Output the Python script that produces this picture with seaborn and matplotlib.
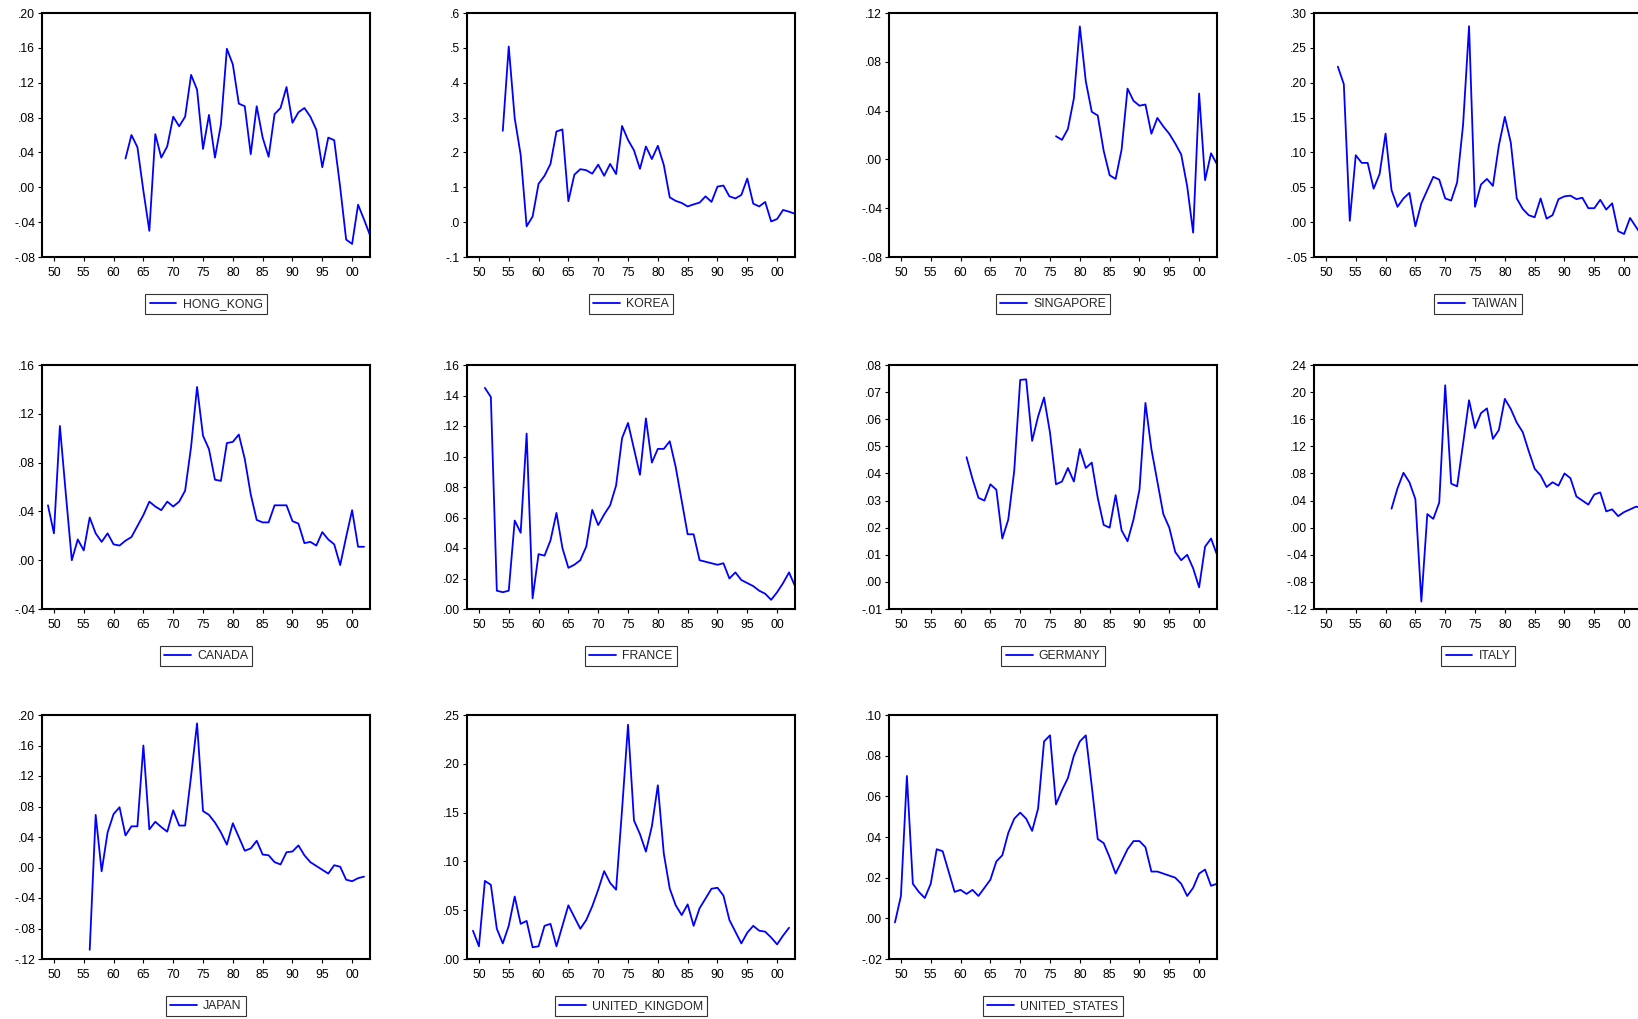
import numpy as np
import pandas as pd
import matplotlib
matplotlib.use('Agg')
import matplotlib.pyplot as plt
import matplotlib.ticker as mticker
import seaborn as sns

# annual series, values start at the given year
hong_kong_start = 1962
hong_kong = [0.033, 0.060, 0.046, -0.004, -0.050, 0.061, 0.034, 0.047, 0.081, 0.070,
             0.081, 0.129, 0.112, 0.044, 0.083, 0.034, 0.072, 0.159, 0.141, 0.096,
             0.093, 0.038, 0.093, 0.057, 0.035, 0.084, 0.091, 0.115, 0.074, 0.086,
             0.091, 0.081, 0.066, 0.023, 0.057, 0.054, 0.000, -0.060, -0.065, -0.020,
             -0.037, -0.055]

korea_start = 1954
korea = [0.262, 0.504, 0.298, 0.193, -0.012, 0.016, 0.110, 0.133, 0.167, 0.260,
         0.266, 0.060, 0.136, 0.152, 0.149, 0.139, 0.165, 0.133, 0.167, 0.138,
         0.276, 0.236, 0.206, 0.153, 0.217, 0.181, 0.219, 0.164, 0.071, 0.061,
         0.055, 0.045, 0.051, 0.056, 0.074, 0.058, 0.102, 0.105, 0.074, 0.068,
         0.078, 0.125, 0.053, 0.045, 0.058, 0.002, 0.009, 0.035, 0.030, 0.024]

singapore_start = 1976
singapore = [0.019, 0.016, 0.025, 0.050, 0.109, 0.064, 0.039, 0.036, 0.007, -0.013,
             -0.016, 0.008, 0.058, 0.048, 0.044, 0.045, 0.021, 0.034, 0.027, 0.021,
             0.013, 0.004, -0.022, -0.060, 0.054, -0.017, 0.005, -0.004]

taiwan_start = 1952
taiwan = [0.223, 0.198, 0.002, 0.096, 0.085, 0.085, 0.048, 0.069, 0.127, 0.046,
          0.022, 0.034, 0.042, -0.006, 0.027, 0.046, 0.065, 0.061, 0.034, 0.031,
          0.057, 0.140, 0.281, 0.022, 0.054, 0.062, 0.052, 0.110, 0.151, 0.114,
          0.034, 0.019, 0.010, 0.007, 0.034, 0.005, 0.010, 0.033, 0.037, 0.038,
          0.033, 0.035, 0.020, 0.020, 0.032, 0.018, 0.027, -0.013, -0.017, 0.006,
          -0.007, -0.020]

canada_start = 1949
canada = [0.045, 0.022, 0.110, 0.054, 0.000, 0.017, 0.008, 0.035, 0.022, 0.015,
          0.022, 0.013, 0.012, 0.016, 0.019, 0.028, 0.037, 0.048, 0.044, 0.041,
          0.048, 0.044, 0.048, 0.057, 0.093, 0.142, 0.102, 0.091, 0.066, 0.065,
          0.096, 0.097, 0.103, 0.083, 0.054, 0.033, 0.031, 0.031, 0.045, 0.045,
          0.045, 0.032, 0.030, 0.014, 0.015, 0.012, 0.023, 0.017, 0.013, -0.004,
          0.019, 0.041, 0.011, 0.011]

france_start = 1951
france = [0.145, 0.139, 0.012, 0.011, 0.012, 0.058, 0.050, 0.115, 0.007, 0.036,
          0.035, 0.045, 0.063, 0.040, 0.027, 0.029, 0.032, 0.041, 0.065, 0.055,
          0.062, 0.068, 0.081, 0.112, 0.122, 0.105, 0.088, 0.125, 0.096, 0.105,
          0.105, 0.110, 0.093, 0.071, 0.049, 0.049, 0.032, 0.031, 0.030, 0.029,
          0.030, 0.020, 0.024, 0.019, 0.017, 0.015, 0.012, 0.010, 0.006, 0.011,
          0.017, 0.024, 0.015]

germany_start = 1961
germany = [0.046, 0.038, 0.031, 0.030, 0.036, 0.034, 0.016, 0.023, 0.041, 0.0745,
           0.0747, 0.052, 0.061, 0.068, 0.055, 0.036, 0.037, 0.042, 0.037, 0.049,
           0.042, 0.044, 0.031, 0.021, 0.020, 0.032, 0.019, 0.015, 0.023, 0.034,
           0.066, 0.049, 0.037, 0.025, 0.020, 0.011, 0.008, 0.010, 0.005, -0.002,
           0.013, 0.016, 0.010]

italy_start = 1961
italy = [0.028, 0.058, 0.081, 0.067, 0.042, -0.109, 0.020, 0.013, 0.037, 0.210,
         0.065, 0.061, 0.124, 0.188, 0.147, 0.169, 0.176, 0.131, 0.144, 0.190,
         0.175, 0.155, 0.141, 0.113, 0.087, 0.077, 0.060, 0.067, 0.062, 0.080,
         0.073, 0.046, 0.040, 0.034, 0.049, 0.052, 0.024, 0.027, 0.017, 0.023,
         0.027, 0.031, 0.029]

japan_start = 1956
japan = [-0.108, 0.069, -0.005, 0.046, 0.070, 0.079, 0.042, 0.054, 0.054, 0.160,
         0.050, 0.060, 0.053, 0.047, 0.075, 0.055, 0.055, 0.120, 0.189, 0.074,
         0.069, 0.059, 0.046, 0.030, 0.058, 0.040, 0.022, 0.025, 0.035, 0.017,
         0.016, 0.007, 0.004, 0.020, 0.021, 0.029, 0.016, 0.007, 0.002, -0.003,
         -0.008, 0.003, 0.001, -0.016, -0.018, -0.014, -0.012]

uk_start = 1949
uk = [0.029, 0.013, 0.080, 0.076, 0.031, 0.016, 0.034, 0.064, 0.036, 0.039,
      0.012, 0.013, 0.034, 0.036, 0.013, 0.034, 0.055, 0.043, 0.031, 0.040,
      0.054, 0.071, 0.090, 0.078, 0.071, 0.153, 0.240, 0.142, 0.128, 0.110,
      0.136, 0.178, 0.108, 0.072, 0.055, 0.045, 0.056, 0.034, 0.052, 0.062,
      0.072, 0.073, 0.065, 0.040, 0.028, 0.016, 0.027, 0.034, 0.029, 0.028,
      0.022, 0.015, 0.024, 0.032]

us_start = 1949
us = [-0.002, 0.011, 0.070, 0.017, 0.013, 0.010, 0.017, 0.034, 0.033, 0.023,
      0.013, 0.014, 0.012, 0.014, 0.011, 0.015, 0.019, 0.028, 0.031, 0.042,
      0.049, 0.052, 0.049, 0.043, 0.054, 0.087, 0.090, 0.056, 0.063, 0.069,
      0.080, 0.087, 0.090, 0.065, 0.039, 0.037, 0.030, 0.022, 0.028, 0.034,
      0.038, 0.038, 0.035, 0.023, 0.023, 0.022, 0.021, 0.020, 0.017, 0.011,
      0.015, 0.022, 0.024, 0.016, 0.017]

names = ['HONG_KONG', 'KOREA', 'SINGAPORE', 'TAIWAN', 'CANADA', 'FRANCE',
         'GERMANY', 'ITALY', 'JAPAN', 'UNITED_KINGDOM', 'UNITED_STATES']
series = [hong_kong, korea, singapore, taiwan, canada, france,
          germany, italy, japan, uk, us]
starts = [hong_kong_start, korea_start, singapore_start, taiwan_start, canada_start,
          france_start, germany_start, italy_start, japan_start, uk_start, us_start]

# y axis (min, max, step, decimals) per panel
y_axes = [(-0.08, 0.20, 0.04, 2), (-0.1, 0.6, 0.1, 1), (-0.08, 0.12, 0.04, 2),
          (-0.05, 0.30, 0.05, 2), (-0.04, 0.16, 0.04, 2), (0.00, 0.16, 0.02, 2),
          (-0.01, 0.08, 0.01, 2), (-0.12, 0.24, 0.04, 2), (-0.12, 0.20, 0.04, 2),
          (0.00, 0.25, 0.05, 2), (-0.02, 0.10, 0.02, 2)]

sns.set_style('white')
plt.rcParams['font.family'] = ['Liberation Sans', 'DejaVu Sans']

W, H = 1638, 1019
fig = plt.figure(figsize=(W / 100, H / 100), dpi=100)

col_left = [42, 467, 889, 1314]
row_top = [13, 365, 715]
aw, ah = 328, 244


def fmt_factory(dec):
    def f(v, pos):
        s = f"{v:.{dec}f}"
        if s.startswith('-') and float(s) == 0:
            s = s[1:]
        return s.replace('0.', '.', 1)
    return f


for i, (name, vals, start, ya) in enumerate(zip(names, series, starts, y_axes)):
    r, c = divmod(i, 4)
    ax = fig.add_axes([col_left[c] / W, 1 - (row_top[r] + ah) / H, aw / W, ah / H])
    df = pd.DataFrame({'year': np.arange(start, start + len(vals)), 'value': vals})
    sns.lineplot(data=df, x='year', y='value', ax=ax, color='#0000ff', linewidth=1.3,
                 label=name)
    ax.set_xlim(1948, 2003)
    lo, hi, step, dec = ya
    ax.set_ylim(lo, hi)
    ax.set_yticks(np.round(np.arange(lo, hi + step / 2, step), 3))
    ax.yaxis.set_major_formatter(mticker.FuncFormatter(fmt_factory(dec)))
    ax.set_xticks(np.arange(1950, 2001, 5))
    ax.xaxis.set_major_formatter(mticker.FuncFormatter(lambda v, p: f"{int(v) % 100:02d}"))
    ax.set_xlabel('')
    ax.set_ylabel('')
    ax.tick_params(axis='both', direction='out', length=3, width=0.8, labelsize=8.8,
                   colors='black', pad=2, left=True, bottom=True)
    ax.tick_params(axis='x', pad=4)
    for sp in ax.spines.values():
        sp.set_visible(True)
        sp.set_color('black')
        sp.set_linewidth(1.5)
    leg = ax.legend(loc='upper center', bbox_to_anchor=(0.5, -0.15), fontsize=8.8,
                    frameon=True, fancybox=False, edgecolor='black', handlelength=2.2,
                    borderpad=0.35, handletextpad=0.5, borderaxespad=0)
    leg.get_frame().set_linewidth(0.8)

fig.savefig('out.png', dpi=100)
